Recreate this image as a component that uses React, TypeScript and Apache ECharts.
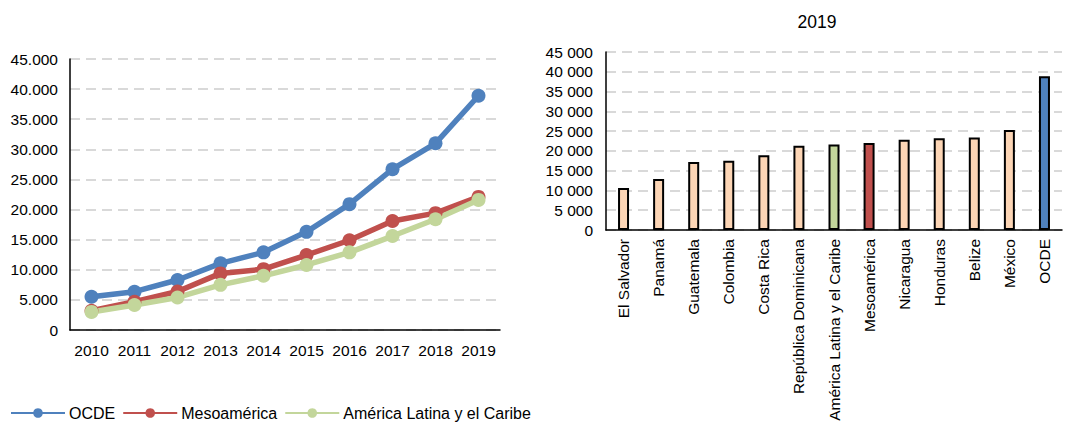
import React, { useEffect, useRef } from "react";
import * as echarts from "echarts";

const years = ["2010", "2011", "2012", "2013", "2014", "2015", "2016", "2017", "2018", "2019"];
const ocde = [5530, 6360, 8300, 11070, 12900, 16300, 20900, 26700, 31000, 38900];
const mesoamerica = [3200, 4700, 6400, 9400, 10100, 12450, 14900, 18100, 19400, 22100];
const alc = [3000, 4150, 5400, 7500, 9000, 10800, 12900, 15600, 18400, 21600];

const countries = [
  "El Salvador", "Panamá", "Guatemala", "Colombia", "Costa Rica", "República Dominicana",
  "América Latina y el Caribe", "Mesoamérica", "Nicaragua", "Honduras", "Belize", "México", "OCDE",
];
const values2019 = [10600, 12900, 17200, 17500, 18900, 21300, 21600, 22000, 22800, 23200, 23400, 25300, 38900];

const BLUE = "#4F81BD";
const RED = "#C0504D";
const GREEN = "#C3D69B";
const PEACH = "#FCD5B5";
const FONT = "'Liberation Sans'";
const FS = 15.5;

const barColor = (name: string) =>
  name === "OCDE" ? BLUE : name === "Mesoamérica" ? RED : name === "América Latina y el Caribe" ? GREEN : PEACH;

export default function App() {
  const ref = useRef<HTMLDivElement>(null);
  useEffect(() => {
    document.body.style.margin = "0";
    const chart = echarts.init(ref.current!, null, { renderer: "svg" });
    const splitLine = { show: true, lineStyle: { color: "#D9D9D9", width: 2, type: [10, 6] as any } };
    const axisLine = { show: true, lineStyle: { color: "#000", width: 1.5 } };
    const lineSeries = (name: string, data: number[], color: string) => ({
      name,
      type: "line",
      xAxisIndex: 0,
      yAxisIndex: 0,
      data,
      symbol: "circle",
      symbolSize: 14,
      lineStyle: { color, width: 5.5 },
      itemStyle: { color },
    });
    chart.setOption({
      animation: false,
      textStyle: { fontFamily: FONT },
      title: {
        text: "2019",
        left: 812,
        textAlign: "center",
        top: 8,
        textStyle: { fontSize: 17.5, fontWeight: "normal", color: "#000", fontFamily: FONT },
      },
      legend: {
        left: 5,
        top: 400,
        itemWidth: 54,
        itemHeight: 12,
        itemGap: 7,
        textStyle: { fontSize: 16, color: "#000", fontFamily: FONT, padding: [0, 0, 0, -1] },
        data: ["OCDE", "Mesoamérica", "América Latina y el Caribe"],
      },
      grid: [
        { left: 70, top: 59, width: 430, height: 271 },
        { left: 606, top: 52, width: 456, height: 178 },
      ],
      xAxis: [
        {
          type: "category",
          gridIndex: 0,
          data: years,
          boundaryGap: true,
          axisLine,
          axisTick: { show: false },
          axisLabel: { fontSize: FS, color: "#000", margin: 12, interval: 0, fontFamily: FONT },
        },
        {
          type: "category",
          gridIndex: 1,
          data: countries,
          axisLine,
          axisTick: { show: false },
          axisLabel: { fontSize: FS, color: "#000", rotate: 90, margin: 9, interval: 0, fontFamily: FONT },
        },
      ],
      yAxis: [
        {
          type: "value",
          gridIndex: 0,
          min: 0,
          max: 45000,
          interval: 5000,
          axisLine,
          axisTick: { show: false },
          splitLine,
          axisLabel: {
            fontSize: FS,
            color: "#000",
            margin: 12,
            fontFamily: FONT,
            formatter: (v: number) => (v === 0 ? "0" : `${Math.floor(v / 1000)}.${String(v % 1000).padStart(3, "0")}`),
          },
        },
        {
          type: "value",
          gridIndex: 1,
          min: 0,
          max: 45000,
          interval: 5000,
          axisLine,
          axisTick: { show: false },
          splitLine,
          axisLabel: {
            fontSize: FS,
            color: "#000",
            margin: 13,
            fontFamily: FONT,
            formatter: (v: number) => (v === 0 ? "0" : `${Math.floor(v / 1000)} ${String(v % 1000).padStart(3, "0")}`),
          },
        },
      ],
      series: [
        lineSeries("OCDE", ocde, BLUE),
        lineSeries("Mesoamérica", mesoamerica, RED),
        lineSeries("América Latina y el Caribe", alc, GREEN),
        {
          name: "2019",
          type: "bar",
          xAxisIndex: 1,
          yAxisIndex: 1,
          barWidth: 11,
          data: countries.map((c, i) => ({
            value: values2019[i],
            itemStyle: { color: barColor(c), borderColor: "#000", borderWidth: 2 },
          })),
        },
      ],
    });
    return () => chart.dispose();
  }, []);
  return <div ref={ref} style={{ width: 1085, height: 428 }} />;
}
